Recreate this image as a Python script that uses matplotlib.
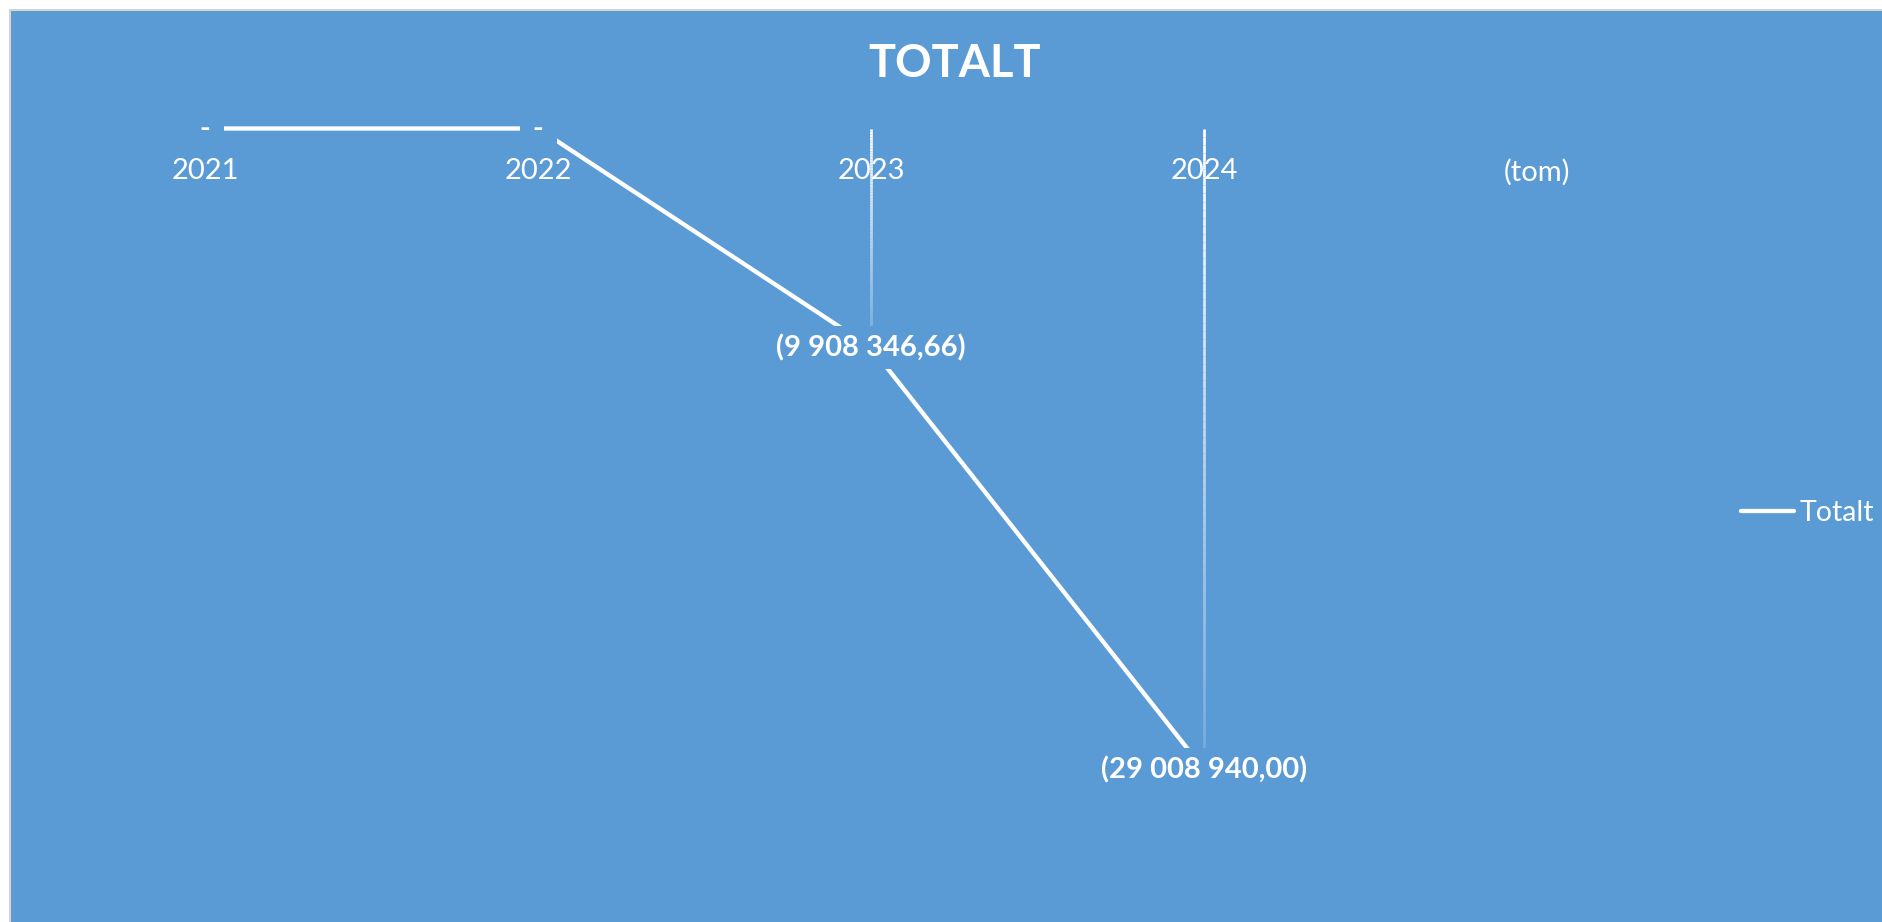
import matplotlib
matplotlib.use("Agg")
import matplotlib.pyplot as plt
import numpy as np
from matplotlib.patches import Rectangle
from matplotlib.collections import LineCollection

# ---- data ----
categories = ["2021", "2022", "2023", "2024", "(tom)"]
values = [0.0, 0.0, -9908346.66, -29008940.00, np.nan]
series_name = "Totalt"
title = "TOTALT"

# ---- style ----
W, H, DPI = 1883, 922, 100
BLUE = "#5B9BD5"
WHITE = "white"
FONT = "Lato"
plt.rcParams["font.family"] = [FONT, "DejaVu Sans"]


def fmt(v):
    if v == 0:
        return "-"
    s = f"{abs(v):,.2f}".replace(",", " ").replace(".", ",")
    return f"({s})" if v < 0 else s


fig = plt.figure(figsize=(W / DPI, H / DPI), dpi=DPI)
fig.patch.set_facecolor("white")
fig.patches.append(Rectangle((10 / W, -0.1), 1.2, 1 - 10 / H + 0.1,
                             transform=fig.transFigure, facecolor=BLUE,
                             edgecolor="#D4D4D4", lw=1.5, zorder=-5))

ax = fig.add_axes([38.5 / W, 1 - 902 / H, (1703.5 - 38.5) / W, (902 - 128.5) / H])
ax.set_facecolor("none")
x = np.arange(len(categories))
vals = np.array(values, dtype=float)
ax.set_xlim(-0.5, len(categories) - 0.5)
ax.set_ylim(-35e6, 0)

# drop lines with gradient fade
for xi, v in zip(x, vals):
    if np.isfinite(v) and v != 0:
        ys = np.linspace(0, v, 80)
        segs = [[(xi, ys[k]), (xi, ys[k + 1])] for k in range(len(ys) - 1)]
        alphas = np.linspace(1.0, 0.15, len(segs))
        cols = [(1, 1, 1, a) for a in alphas]
        ax.add_collection(LineCollection(segs, colors=cols, linewidths=2.0,
                                         zorder=2, clip_on=False))

# main line
line, = ax.plot(x, vals, color=WHITE, lw=3.1, solid_capstyle="round",
                label=series_name, zorder=3, clip_on=False)

# data labels
for xi, v in zip(x, vals):
    if not np.isfinite(v):
        continue
    txt = fmt(v)
    pad = 0.45 if v == 0 else 0.26
    ax.text(xi, v, txt, ha="center", va="center", color=WHITE,
            fontsize=21, fontweight="bold", zorder=4, clip_on=False,
            bbox=dict(boxstyle=f"square,pad={pad}", facecolor=BLUE, edgecolor="none"))

# category axis at zero
for s in ax.spines.values():
    s.set_visible(False)
ax.spines["bottom"].set_position(("data", 0))
ax.xaxis.set_ticks_position("bottom")
ax.set_xticks(x)
ax.set_xticklabels(categories)
ax.tick_params(axis="x", length=0, pad=21.5, labelcolor=WHITE, labelsize=21)
ax.set_yticks([])

# title
fig.text(955 / W, 1 - 64 / H, title, ha="center", va="center", color=WHITE,
         fontsize=32.5, fontweight="bold")

# legend
leg = fig.legend(handles=[line], loc="center left",
                 bbox_to_anchor=(1741 / W, 1 - 513 / H), frameon=False,
                 fontsize=20.5, handlelength=1.85, handletextpad=0.2,
                 borderpad=0, borderaxespad=0, labelcolor=WHITE)

fig.savefig("out.png", dpi=DPI, facecolor=fig.get_facecolor())
